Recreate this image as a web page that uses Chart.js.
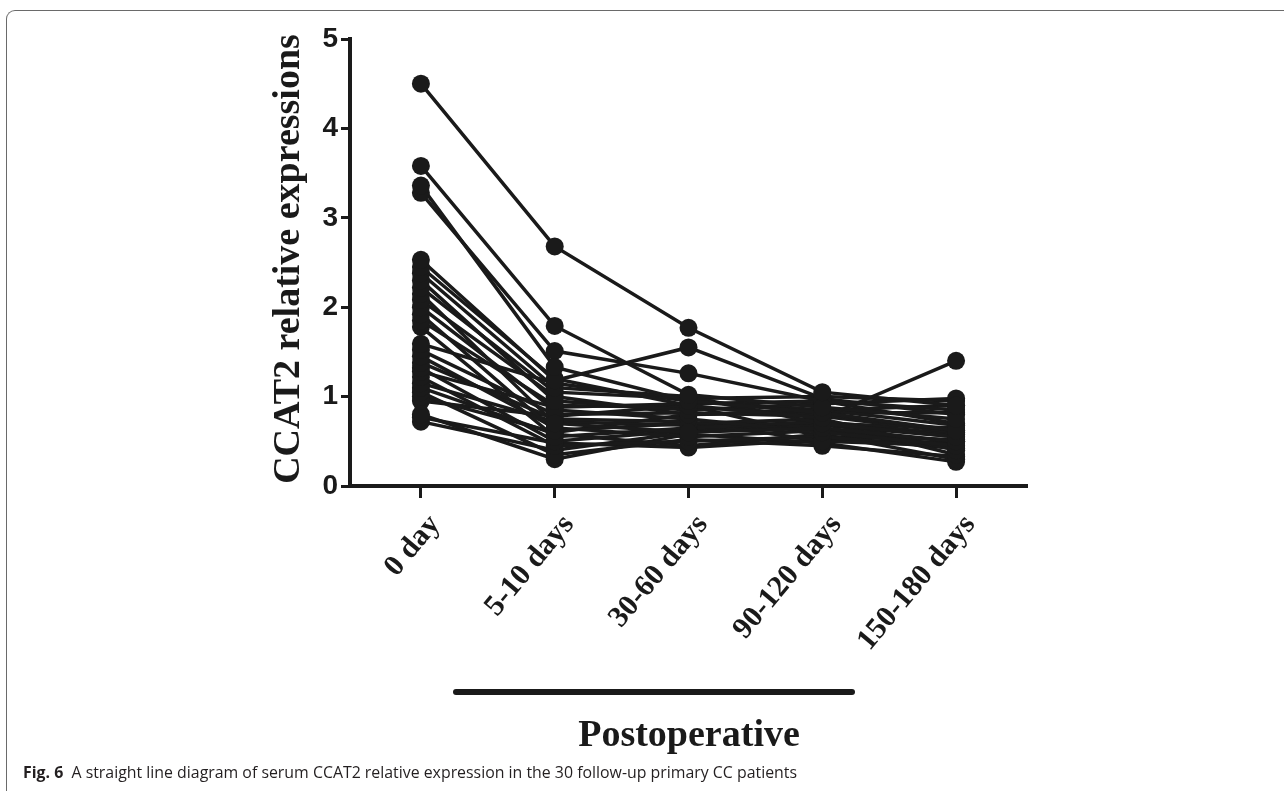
<!DOCTYPE html>
<html>
<head>
<meta charset="utf-8">
<script src="https://cdn.jsdelivr.net/npm/chart.js@4/dist/chart.umd.min.js"></script>
<style>
html,body{margin:0;padding:0;background:#fff;width:1284px;height:791px;overflow:hidden;}
#frame{position:absolute;left:6px;top:10px;width:1320px;height:820px;border-top:1.5px solid #6a6a6a;border-left:1.5px solid #6a6a6a;border-top-left-radius:9px;}
#wrap{position:absolute;left:0;top:0;width:1284px;height:791px;}
#cap{position:absolute;left:23px;top:761px;font-family:"Open Sans","Noto Sans",sans-serif;font-size:16px;white-space:nowrap;color:#231f20;transform-origin:0 0;}
#cap b{font-weight:700;}
</style>
</head>
<body>
<div id="frame"></div>
<div id="wrap"><canvas id="c" width="1284" height="791"></canvas></div>
<div id="cap"><b>Fig. 6</b>&nbsp; A straight line diagram of serum CCAT2 relative expression in the 30 follow-up primary CC patients</div>
<script>
// Categories (time points)
const categories = ["0 day", "5-10 days", "30-60 days", "90-120 days", "150-180 days"];
// Y ticks
const yTicks = [0, 1, 2, 3, 4, 5];
// Values per patient, one array per time point (30 patients)
const day0      = [4.50,3.58,3.36,3.28,2.53,2.45,2.38,2.30,2.22,2.15,2.08,2.00,1.92,1.85,1.78,1.59,1.52,1.45,1.38,1.32,1.28,1.22,1.15,1.10,1.05,1.00,0.95,0.80,0.77,0.72];
const days5_10  = [2.68,1.79,1.33,1.51,1.18,1.20,1.10,0.95,1.05,0.70,1.00,0.85,0.62,0.90,0.55,1.15,0.80,0.65,0.75,0.50,0.88,0.45,0.72,0.58,0.35,0.60,0.78,0.30,0.48,0.40];
const days30_60 = [1.77,1.02,0.95,1.26,1.55,0.90,1.00,0.85,0.98,0.60,0.80,0.75,0.70,0.88,0.65,0.95,0.82,0.55,0.72,0.62,0.92,0.50,0.68,0.45,0.52,0.80,0.90,0.58,0.43,0.60];
const days90_120= [1.05,0.88,0.82,0.95,0.98,0.76,0.70,0.92,1.00,0.65,0.85,0.60,0.75,0.80,0.72,0.85,0.78,0.62,0.50,0.68,0.95,0.55,0.70,0.58,0.45,0.82,0.55,0.48,0.52,0.72];
const days150_180=[0.90,0.75,0.62,0.85,0.80,1.40,0.55,0.98,0.95,0.50,0.68,0.45,0.40,0.62,0.35,0.90,0.60,0.50,0.45,0.55,0.70,0.42,0.65,0.30,0.33,0.82,0.52,0.27,0.48,0.58];

const columns = [day0, days5_10, days30_60, days90_120, days150_180];
const INK = '#1a1a1a';

const datasets = day0.map((_, p) => ({
  data: columns.map((col, i) => ({x: i, y: col[p]})),
  borderColor: INK,
  backgroundColor: INK,
  pointBackgroundColor: INK,
  pointBorderColor: INK,
  borderWidth: 3.5,
  pointRadius: 9,
  pointBorderWidth: 0,
  tension: 0,
  clip: false
}));

const decor = {
  id: 'decor',
  afterDraw(chart) {
    const c = chart.ctx;
    c.save();
    c.fillStyle = INK;
    c.strokeStyle = INK;
    // y-axis title
    c.save();
    c.translate(289, 259);
    c.rotate(-Math.PI / 2);
    c.font = 'bold 38px "Liberation Serif"';
    c.textAlign = 'center';
    c.textBaseline = 'middle';
    c.fillText('CCAT2 relative expressions', 0, 0);
    c.restore();
    // postoperative bar
    c.lineWidth = 6;
    c.lineCap = 'round';
    c.beginPath();
    c.moveTo(456, 692);
    c.lineTo(852, 692);
    c.stroke();
    // x title
    c.font = 'bold 38px "Liberation Serif"';
    c.textAlign = 'center';
    c.textBaseline = 'alphabetic';
    c.fillText('Postoperative', 689, 746);
    c.restore();
  }
};

new Chart(document.getElementById('c'), {
  type: 'line',
  data: { datasets },
  options: {
    responsive: false,
    animation: false,
    layout: { padding: { left: 0, right: 1284 - 1027, top: 39, bottom: 0 } },
    plugins: { legend: { display: false }, tooltip: { enabled: false } },
    scales: {
      x: {
        type: 'linear',
        min: -0.53,
        max: 4.53,
        afterBuildTicks: s => { s.ticks = categories.map((_, i) => ({ value: i })); },
        afterFit: s => { s.height = 791 - 486; },
        ticks: {
          autoSkip: false,
          minRotation: 50,
          maxRotation: 50,
          padding: 10,
          labelOffset: 14,
          color: INK,
          font: { family: 'Liberation Serif', weight: 'bold', size: 30 },
          callback: v => categories[v]
        },
        grid: { drawOnChartArea: false, tickLength: 12, tickWidth: 3, tickColor: INK },
        border: { color: INK, width: 4 }
      },
      y: {
        min: 0,
        max: 5,
        afterBuildTicks: s => { s.ticks = yTicks.map(v => ({ value: v })); },
        afterFit: s => { s.width = 350; },
        ticks: {
          padding: 3,
          color: INK,
          font: { family: 'Liberation Sans', weight: 'bold', size: 28 }
        },
        grid: { drawOnChartArea: false, tickLength: 9, tickWidth: 3, tickColor: INK },
        border: { color: INK, width: 4 }
      }
    }
  },
  plugins: [decor]
});

// fit caption width to reference span
const cap = document.getElementById('cap');
const w = cap.getBoundingClientRect().width;
cap.style.transform = 'scaleX(' + (774 / w) + ')';
</script>
</body>
</html>
